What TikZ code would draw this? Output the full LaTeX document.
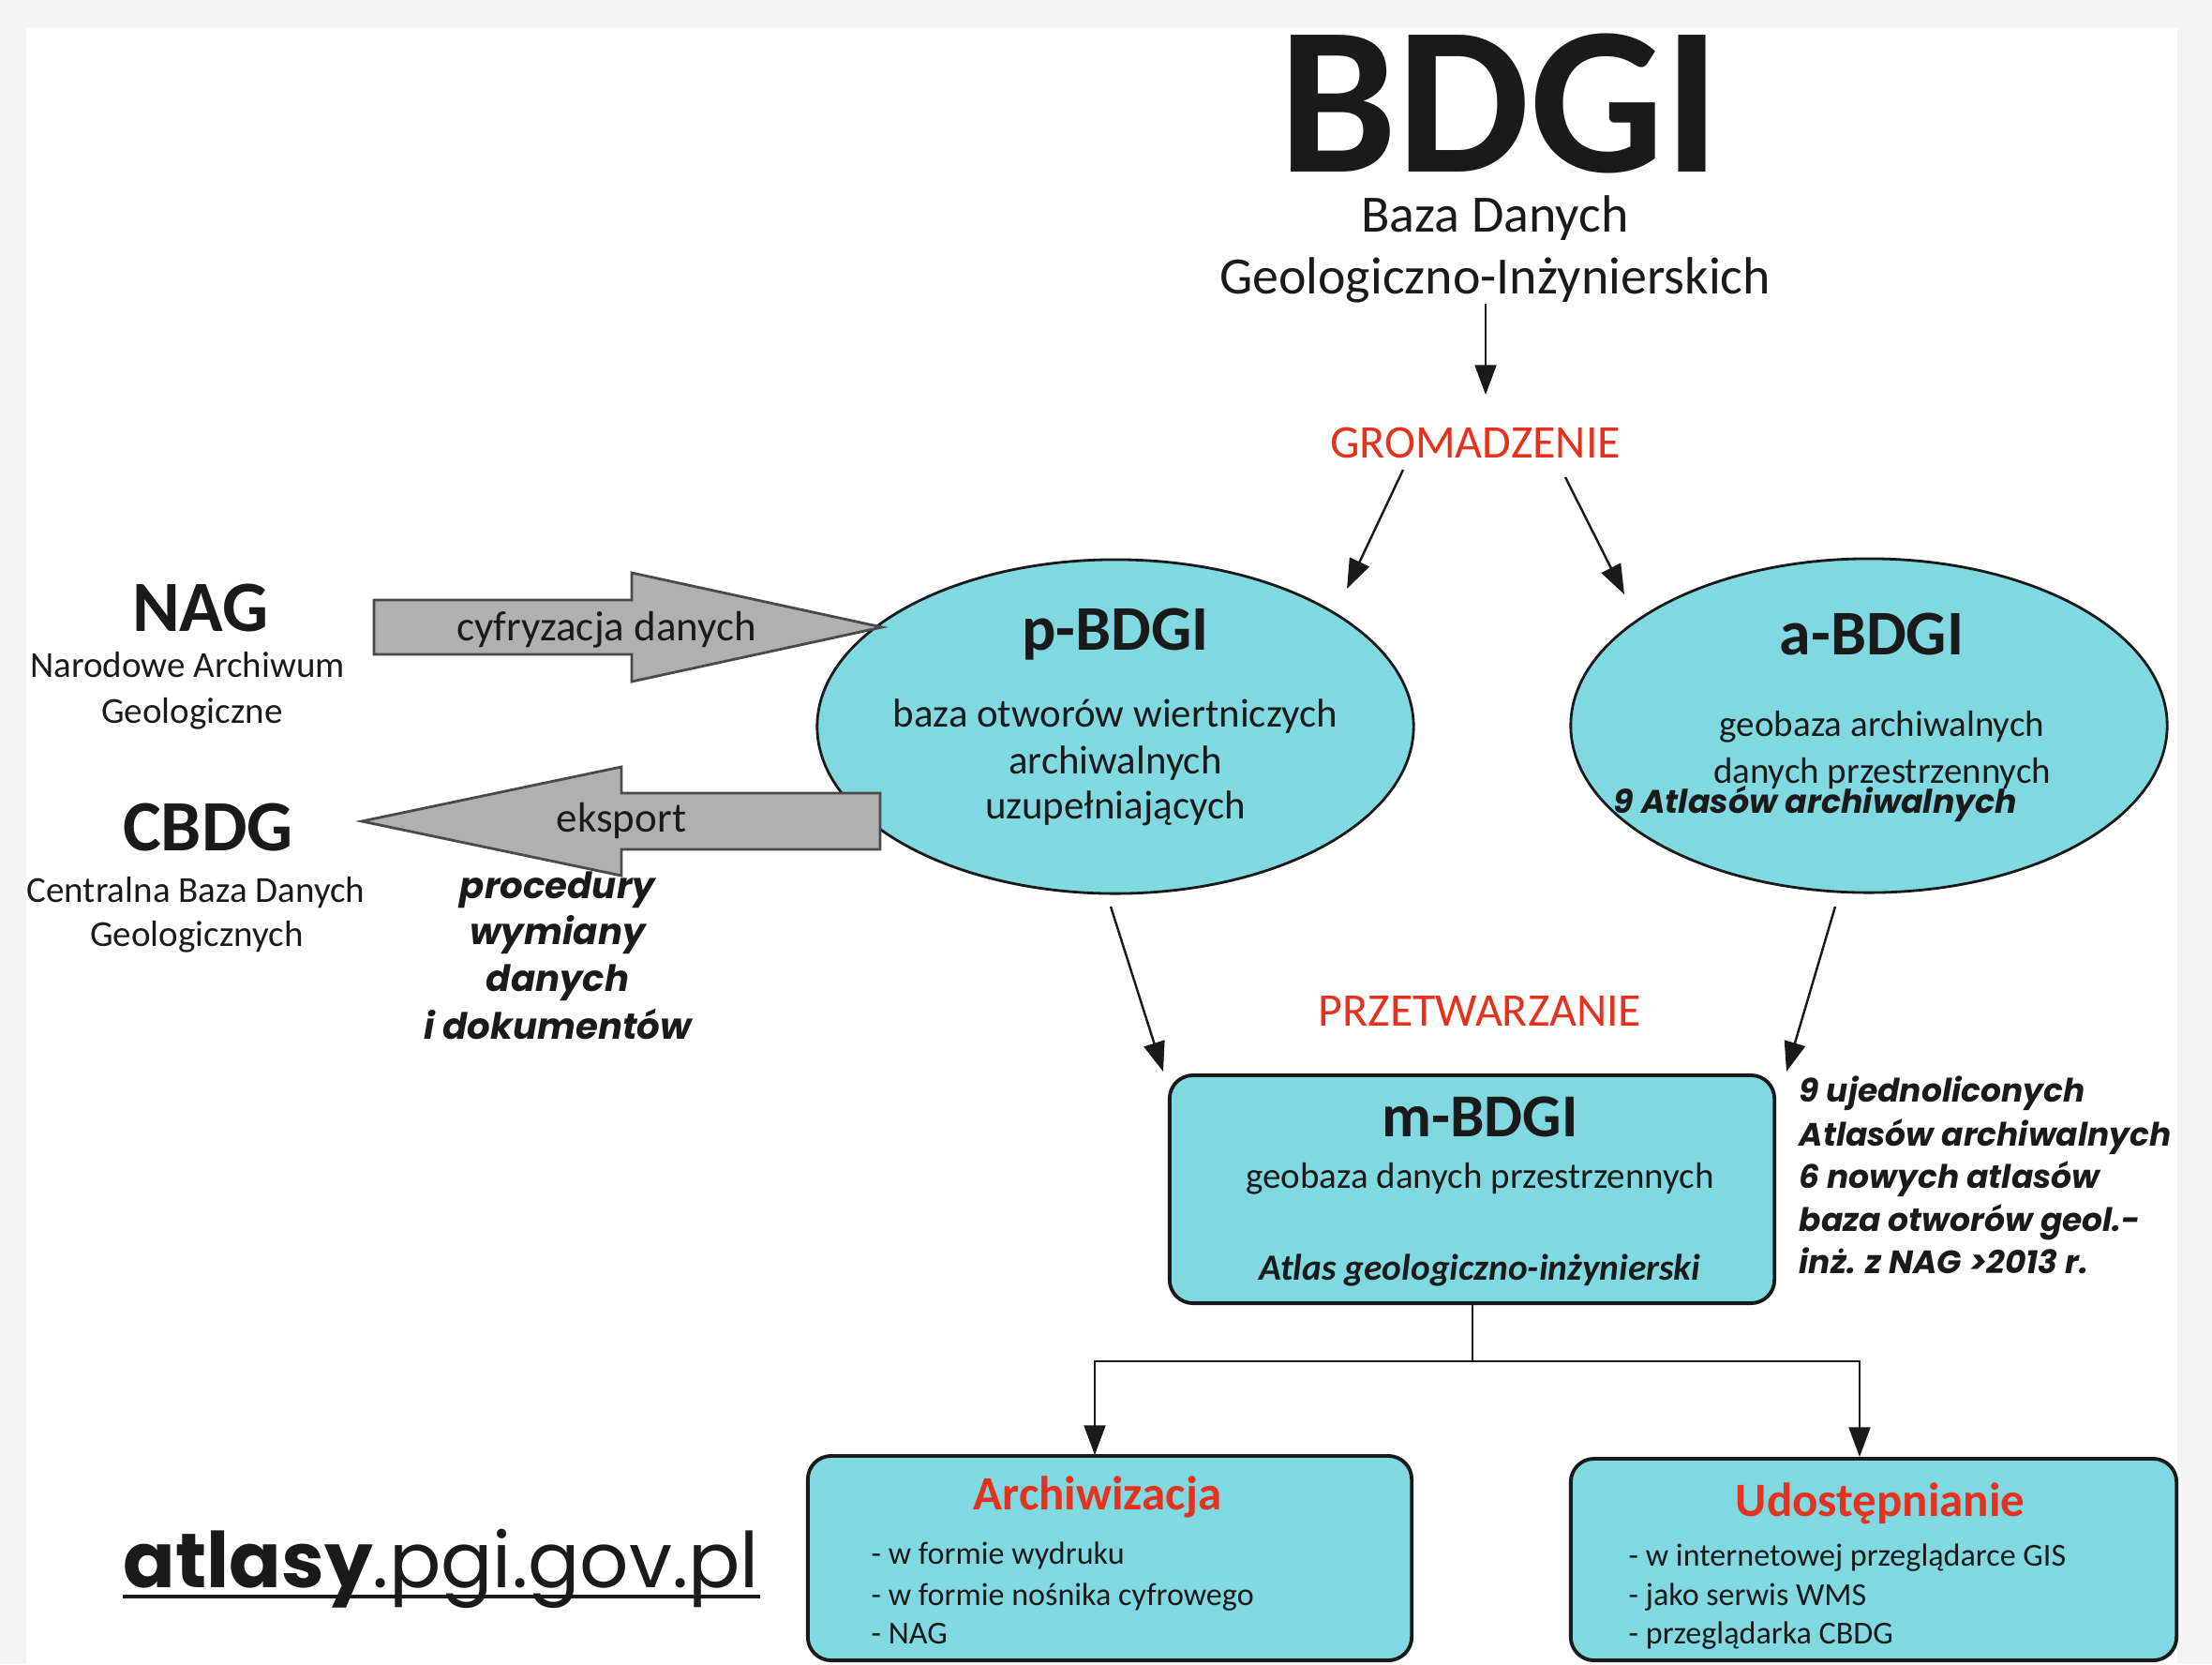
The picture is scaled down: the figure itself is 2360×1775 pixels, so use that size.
\documentclass[tikz,border=0pt]{standalone}
\usepackage{fontspec}
\setmainfont{Carlito}
\newfontfamily\gothic{Poppins}
\usetikzlibrary{shapes.geometric,arrows.meta}
\definecolor{cyanfill}{HTML}{80D8E0}
\definecolor{ink}{HTML}{1A1A1A}
\definecolor{redtxt}{HTML}{E5321F}
\definecolor{arrowgray}{HTML}{B0B0B0}
\definecolor{arrowline}{HTML}{4A4A4A}
\definecolor{outer}{HTML}{F5F5F5}
\newcommand\fsz[1]{\fontsize{#1pt}{#1pt}\selectfont}
\tikzset{
  txt/.style={inner sep=0pt, anchor=base, text=ink},
  txtl/.style={inner sep=0pt, anchor=base west, text=ink},
  blob/.style={ellipse, draw=ink, fill=cyanfill, line width=0.8pt, inner sep=0pt,
               minimum width=6.36cm, minimum height=3.56cm},
  rbox/.style={draw=ink, fill=cyanfill, line width=1.1pt, rounded corners=0.25cm, inner sep=0pt},
  conn/.style={draw=ink, line width=0.7pt, -{Triangle[length=9pt,width=6.5pt]}},
  blockarrow/.style={fill=arrowgray, draw=arrowline, line width=0.8pt, line join=miter}
}
\begin{document}
\begin{tikzpicture}[x=0.01cm, y=-0.01cm]
\useasboundingbox (0,0) rectangle (2360,1775);
\fill[outer] (0,0) rectangle (2360,1775);
\fill[white] (28,30) rectangle (2323,1775);

% title
\node[txt, font=\fsz{64}\bfseries] (title) at (1600,183) {BDGI};
\node[txt, font=\fsz{15.9}] (sub1) at (1595,247) {Baza Danych};
\node[txt, font=\fsz{15.9}] (sub2) at (1595,313) {Geologiczno-Inżynierskich};

\node[txt, font=\fsz{14.2}, text=redtxt] (gro) at (1574,488) {GROMADZENIE};

% ellipses
\node[blob] (pb) at (1190,775) {};
\node[blob] (ab) at (1994,774) {};

\node[txt, font=\fsz{19.3}\bfseries] (pbt) at (1190,693) {p-BDGI};
\node[txt, font=\fsz{12.2}] (pb1) at (1190,775) {baza otworów wiertniczych};
\node[txt, font=\fsz{12.2}] (pb2) at (1190,825) {archiwalnych};
\node[txt, font=\fsz{12.2}] (pb3) at (1190,873) {uzupełniających};

\node[txt, font=\fsz{19.3}\bfseries] (abt) at (1997,698) {a-BDGI};
\node[txt, font=\fsz{11.1}] (ab1) at (2008,785) {geobaza archiwalnych};
\node[txt, font=\fsz{11.1}] (ab2) at (2008,835) {danych przestrzennych};
\node[txt, anchor=base west, font=\gothic\fsz{9.9}\bfseries\itshape] (ab3) at (1721,867) {9 Atlasów archiwalnych};

% left side
\node[txt, font=\fsz{21.9}\bfseries] (nag) at (214,673) {NAG};
\node[txt, font=\fsz{11.1}] (nag1) at (200,722) {Narodowe Archiwum};
\node[txt, font=\fsz{11.1}] (nag2) at (205,771) {Geologiczne};
\node[txt, font=\fsz{21.9}\bfseries] (cbdg) at (222,907) {CBDG};
\node[txt, font=\fsz{11.1}] (cbdg1) at (209,962) {Centralna Baza Danych};
\node[txt, font=\fsz{11.1}] (cbdg2) at (210,1009) {Geologicznych};

% block arrows
\path[blockarrow] (399,640) -- (674,640) -- (674,611) -- (941,669) -- (674,727) -- (674,698) -- (399,698) -- cycle;
\node[txt, font=\fsz{12.8}] (cyf) at (647,683) {cyfryzacja danych};
\path[blockarrow] (939,846) -- (663,846) -- (663,818) -- (386,876) -- (663,934) -- (663,906) -- (939,906) -- cycle;
\node[txt, font=\fsz{12.8}] (eks) at (663,887) {eksport};

\node[txt, font=\gothic\fsz{11}\bfseries\itshape] (pr1) at (595,958) {procedury};
\node[txt, font=\gothic\fsz{11}\bfseries\itshape] (pr2) at (595,1007) {wymiany};
\node[txt, font=\gothic\fsz{11}\bfseries\itshape] (pr3) at (595,1057) {danych};
\node[txt, font=\gothic\fsz{11}\bfseries\itshape] (pr4) at (595,1108) {i dokumentów};

\node[txt, font=\fsz{14.2}, text=redtxt] (prz) at (1579,1094) {PRZETWARZANIE};

% m-BDGI
\node[rbox, minimum width=6.45cm, minimum height=2.43cm] (mb) at (1570.5,1268.5) {};
\node[txt, font=\fsz{18.5}\bfseries] (mbt) at (1579,1212) {m-BDGI};
\node[txt, font=\fsz{11.1}] (mb1) at (1579,1267) {geobaza danych przestrzennych};
\node[txt, font=\fsz{11.2}\bfseries\itshape] (mb2) at (1579,1365) {Atlas geologiczno-inżynierski};

\node[txtl, font=\gothic\fsz{9.8}\bfseries\itshape] (r1) at (1919,1175) {9 ujednoliconych};
\node[txtl, font=\gothic\fsz{9.8}\bfseries\itshape] (r2) at (1919,1222) {Atlasów archiwalnych};
\node[txtl, font=\gothic\fsz{9.8}\bfseries\itshape] (r3) at (1919,1267) {6 nowych atlasów};
\node[txtl, font=\gothic\fsz{9.8}\bfseries\itshape] (r4) at (1919,1313) {baza otworów geol.-};
\node[txtl, font=\gothic\fsz{9.8}\bfseries\itshape] (r5) at (1919,1358) {inż. z NAG >2013 r.};

% bottom boxes
\node[rbox, minimum width=6.44cm, minimum height=2.18cm] (arch) at (1184,1662) {};
\node[rbox, minimum width=6.46cm, minimum height=2.15cm] (udo) at (1999,1663.5) {};
\node[txt, font=\fsz{14.5}\bfseries, text=redtxt] (archt) at (1171,1610) {Archiwizacja};
\node[txtl, font=\fsz{9.7}] (a1) at (929,1668) {- w formie wydruku};
\node[txtl, font=\fsz{9.7}] (a2) at (929,1712) {- w formie nośnika cyfrowego};
\node[txtl, font=\fsz{9.7}] (a3) at (929,1753) {- NAG};
\node[txt, font=\fsz{14.5}\bfseries, text=redtxt] (udot) at (2006,1617) {Udostępnianie};
\node[txtl, font=\fsz{9.7}] (u1) at (1737,1670) {- w internetowej przeglądarce GIS};
\node[txtl, font=\fsz{9.7}] (u2) at (1737,1712) {- jako serwis WMS};
\node[txtl, font=\fsz{9.7}] (u3) at (1737,1753) {- przeglądarka CBDG};

% url
\node[txtl, font=\gothic\fsz{23.3}] (url) at (131,1693) {{\bfseries atlasy}.pgi.gov.pl};
\draw[ink, line width=1.1pt] ([yshift=-0.1cm]url.base west) -- ([yshift=-0.1cm]url.base east);

% connector endpoints
\coordinate (c0s) at (1585,324);
\coordinate (c0e) at (1585,421);
\coordinate (c1s) at (1497,501);
\coordinate (c1e) at (1437,628);
\coordinate (c2s) at (1670,509);
\coordinate (c2e) at (1733,634);
\coordinate (c3s) at (1185,967);
\coordinate (c3e) at (1241,1143);
\coordinate (c4s) at (1958,967);
\coordinate (c4e) at (1906,1143);
\coordinate (split) at (1571,1452);
\coordinate (archtop) at (1168,1552);
\coordinate (udotop) at (1984,1554);

\draw[conn] (c0s) -- (c0e);
\draw[conn] (c1s) -- (c1e);
\draw[conn] (c2s) -- (c2e);
\draw[conn] (c3s) -- (c3e);
\draw[conn] (c4s) -- (c4e);
\draw[conn] (mb.south -| split) -- (split) -| (archtop);
\draw[conn] (split) -| (udotop);
\end{tikzpicture}
\end{document}
